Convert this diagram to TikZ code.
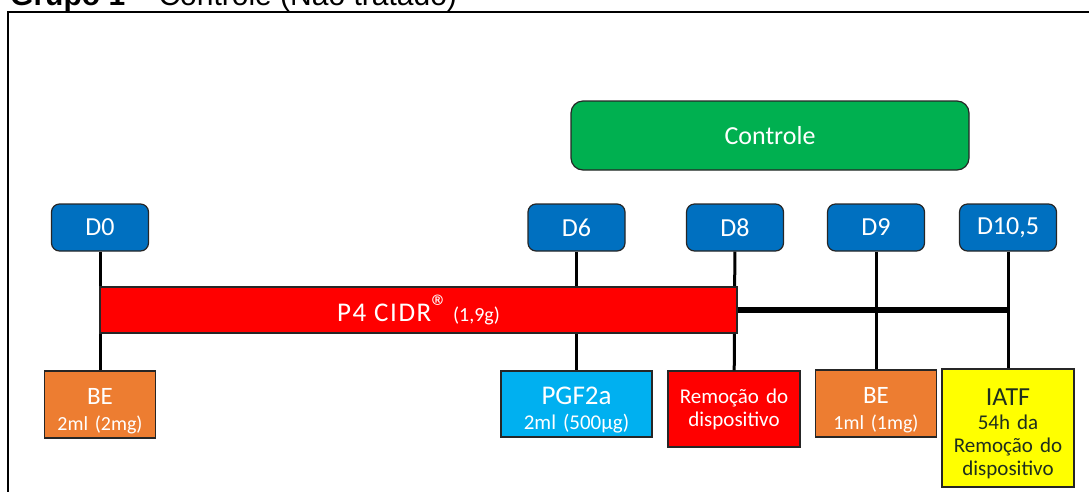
\documentclass[tikz,border=0pt]{standalone}
\usepackage{fontspec}
\setmainfont{Carlito}
\newfontfamily\titlefont{Liberation Sans}
\definecolor{dblue}{HTML}{0070C0}
\definecolor{cgreen}{HTML}{00B050}
\definecolor{cred}{HTML}{FF0000}
\definecolor{corange}{HTML}{ED7D31}
\definecolor{ccyan}{HTML}{00B0F0}
\definecolor{cyellow}{HTML}{FFFF00}
\definecolor{edgegray}{HTML}{262626}
\definecolor{darktext}{HTML}{1E2E1E}
\begin{document}
\begin{tikzpicture}[x=1pt,y=-1pt,
  box/.style={draw=edgegray, line width=1.2pt, inner sep=0pt, align=center, text=white},
  dbox/.style={box, rounded corners=8pt, fill=dblue, minimum width=97pt, minimum height=47pt,
    font=\fontsize{26}{30}\selectfont},
  evbox/.style={box, font=\fontsize{20}{26}\selectfont, text height=10pt},
  vline/.style={line width=3pt, black},
  thickline/.style={line width=5.5pt, black},
  frameline/.style={line width=2pt, black}]
\clip (0,0) rectangle (1089,491);
% title (cut off at top)
\node[anchor=base west, inner sep=0pt, font=\titlefont\fontsize{30}{36}\selectfont] (title) at (10,5)
  {\textbf{Grupo 1} – Controle (Não tratado)};
\coordinate (fbl) at (8,560);
\coordinate (ftl) at (8,12);
\coordinate (ftr) at (1150,12);
\draw[frameline] (fbl) -- (ftl) -- (ftr);
% Controle
\node[box, rounded corners=12pt, fill=cgreen, minimum width=398pt, minimum height=69pt,
  font=\fontsize{26}{30}\selectfont] (ctrl) at (770,135.5) {Controle};
% day boxes
\node[dbox] (d0) at (100,227.5) {D0};
\node[dbox] (d6) at (576.5,227.5) {D6};
\node[dbox] (d8) at (735,227.5) {D8};
\node[dbox] (d9) at (876,227.5) {D9};
\node[dbox] (d105) at (1008,227.5) {D10,5};
% event boxes
\node[evbox, fill=corange, minimum width=111pt, minimum height=67pt, text width=107pt,
  text depth=11pt] (be1) at (100,404.5)
  {{\fontsize{25}{26}\selectfont BE}\\2ml (2mg)};
\node[evbox, fill=ccyan, minimum width=151pt, minimum height=66pt, text width=147pt,
  text depth=10pt, font=\fontsize{21}{25}\selectfont] (pgf) at (576.5,404)
  {{\fontsize{27}{25}\selectfont PGF2a}\\2ml (500µg)};
\node[evbox, fill=cred, minimum width=132pt, minimum height=76pt, text width=128pt,
  text depth=21pt, font=\fontsize{21}{23}\selectfont] (rem) at (734,409)
  {Remoção do\\dispositivo};
\node[evbox, fill=corange, minimum width=121pt, minimum height=67pt, text width=117pt,
  text depth=10pt] (be2) at (876,403.5)
  {{\fontsize{25}{26}\selectfont BE}\\1ml (1mg)};
\node[evbox, fill=cyellow, text=darktext, minimum width=132pt, minimum height=118pt, text width=128pt,
  text depth=56pt, font=\fontsize{21}{23}\selectfont] (iatf) at (1008,428)
  {{\fontsize{26}{23}\selectfont IATF}\\[1pt]54h da\\Remoção do\\dispositivo};
% vertical connectors
\draw[vline] (d0) -- (be1);
\draw[vline] (d6) -- (pgf);
\draw[vline] (d8) -- (rem);
\draw[vline] (d9) -- (be2);
\draw[vline] (d105) -- (iatf);
% P4 CIDR bar
\node[box, fill=cred, minimum width=637pt, minimum height=46pt, font=\fontsize{27}{30}\selectfont] (cidr) at (418.5,310)
  {{\addfontfeature{LetterSpace=6}P4 CIDR}\raisebox{0.12em}{\fontsize{34}{30}\selectfont ®}\,{\fontsize{20}{20}\selectfont (1,9g)}};
\draw[thickline] (cidr.east) -- (cidr.east -| d105);
\end{tikzpicture}
\end{document}
